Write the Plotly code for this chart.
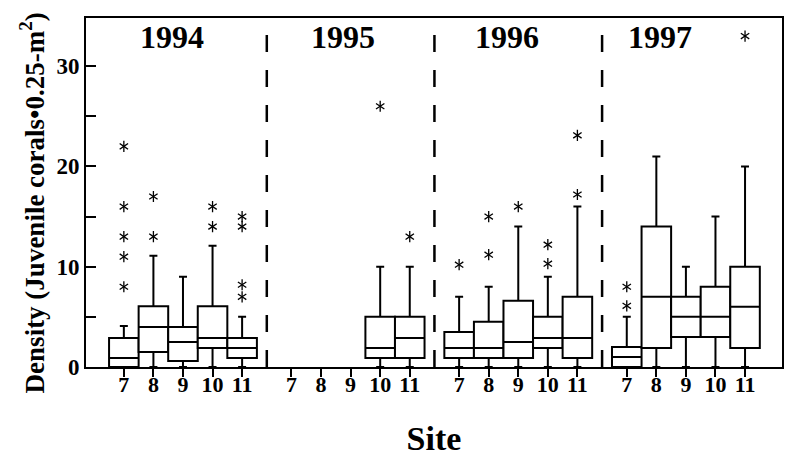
import plotly.graph_objects as go

# ---------------- data ----------------
years = ["1994", "1995", "1996", "1997"]
sites = [7, 8, 9, 10, 11]

# per year, per site (None = no samples)
q1 = {
    "1994": [0, 1.5, 0.6, 1.9, 0.9],
    "1995": [None, None, None, 0.9, 0.9],
    "1996": [0.9, 0.9, 0.9, 1.9, 0.9],
    "1997": [0, 1.9, 3, 3, 1.9],
}
median = {
    "1994": [0.9, 4, 2.5, 2.9, 1.9],
    "1995": [None, None, None, 1.9, 2.9],
    "1996": [1.9, 1.9, 2.5, 2.9, 2.9],
    "1997": [1, 7, 5, 5, 6],
}
q3 = {
    "1994": [2.9, 6.05, 4, 6.05, 2.9],
    "1995": [None, None, None, 5, 5],
    "1996": [3.5, 4.5, 6.6, 5, 7],
    "1997": [2, 14, 7, 8, 10],
}
upper = {
    "1994": [4.1, 11.1, 9, 12.1, 5],
    "1995": [None, None, None, 10, 10],
    "1996": [7, 8, 14, 9, 16],
    "1997": [5, 21, 10, 15, 20],
}
lower = {
    "1994": [0, 0, 0, 0, 0],
    "1995": [None, None, None, 0, 0],
    "1996": [0, 0, 0, 0, 0],
    "1997": [0, 0, 0, 0, 0],
}
outliers = {
    "1994": [[22, 16, 13, 11, 8], [17, 13], [], [16, 14], [15, 14, 8.2, 7]],
    "1995": [[], [], [], [26], [13]],
    "1996": [[10.2], [11.2, 15], [16], [10.3, 12.2], [17.2, 23.1]],
    "1997": [[6.1, 8], [], [], [], [33]],
}
y_ticks = [0, 10, 20, 30]
y_title = "Density (Juvenile corals•0.25-m<sup>2</sup>)"
x_title = "Site"

# ---------------- layout helpers ----------------
GROUP = 5.67          # spacing between year groups (in site units)
label_off = [1.62, 1.74, 1.61, 1.12]

def xpos(g, s):
    return g * GROUP + (s - sites[0])

bx, bq1, bmed, bq3, bup, blo = [], [], [], [], [], []
ox, oy = [], []
tickvals, ticktext = [], []
for g, yr in enumerate(years):
    for i, s in enumerate(sites):
        x = xpos(g, s)
        tickvals.append(x)
        ticktext.append(str(s))
        if q1[yr][i] is not None:
            bx.append(x)
            bq1.append(q1[yr][i])
            bmed.append(median[yr][i])
            bq3.append(q3[yr][i])
            bup.append(upper[yr][i])
            blo.append(lower[yr][i])
        for v in outliers[yr][i]:
            ox.append(x)
            oy.append(v)

FONT = "Liberation Serif"

fig = go.Figure()
fig.add_trace(go.Box(
    x=bx, q1=bq1, median=bmed, q3=bq3, upperfence=bup, lowerfence=blo,
    width=1.0, whiskerwidth=0.27, boxpoints=False,
    line=dict(color="black", width=2), fillcolor="white",
    showlegend=False, hoverinfo="skip",
))
for sym in ["y-up-open", "y-down-open"]:
    fig.add_trace(go.Scatter(
        x=ox, y=oy, mode="markers",
        marker=dict(symbol=sym, size=7, color="black",
                    line=dict(color="black", width=1.3)),
        showlegend=False, hoverinfo="skip",
    ))

shapes = []
for g in range(len(years) - 1):
    xs = xpos(g, sites[-1]) + (GROUP - (sites[-1] - sites[0])) / 2
    shapes.append(dict(type="line", xref="x", yref="paper", x0=xs, x1=xs,
                       y0=0, y1=1, line=dict(color="black", width=2.5,
                                             dash="17px,18px")))

annotations = []
for g, yr in enumerate(years):
    annotations.append(dict(x=g * GROUP + label_off[g], y=32.9, xref="x", yref="y",
                            text=yr, showarrow=False,
                            font=dict(family=FONT, size=32, color="black", weight="bold")))
# y-axis title
annotations.append(dict(x=-0.077, y=0.47, xref="paper", yref="paper",
                        xanchor="center", yanchor="middle", textangle=-90,
                        text=y_title, showarrow=False,
                        font=dict(family=FONT, size=27, color="black", weight="bold")))

fig.update_layout(
    width=785, height=457,
    margin=dict(l=86, r=3, t=18, b=90),
    paper_bgcolor="white", plot_bgcolor="white",
    shapes=shapes, annotations=annotations,
    font=dict(family=FONT, color="black", weight="bold"),
    xaxis=dict(
        range=[-1.28, 3 * GROUP + 4 + 1.25],
        tickvals=tickvals, ticktext=ticktext,
        ticks="outside", ticklen=8, tickwidth=2, tickcolor="black",
        ticklabelstandoff=-11, automargin=False,
        showline=True, linewidth=2, linecolor="black", mirror=True,
        showgrid=False, zeroline=False,
        tickfont=dict(family=FONT, size=22, weight="bold"),
        title=dict(text=x_title, standoff=41,
                   font=dict(family=FONT, size=34, weight="bold")),
    ),
    yaxis=dict(
        range=[0, 34.8], automargin=False,
        tickvals=y_ticks, ticktext=[str(v) for v in y_ticks],
        ticks="inside", ticklen=10, tickwidth=2, tickcolor="black",
        minor=dict(dtick=5, ticks="inside", ticklen=10, tickwidth=2,
                   tickcolor="black", showgrid=False),
        showline=True, linewidth=2, linecolor="black", mirror=True,
        showgrid=False, zeroline=False,
        tickfont=dict(family=FONT, size=23, weight="bold"),
    ),
)

fig.write_html("out.html")
